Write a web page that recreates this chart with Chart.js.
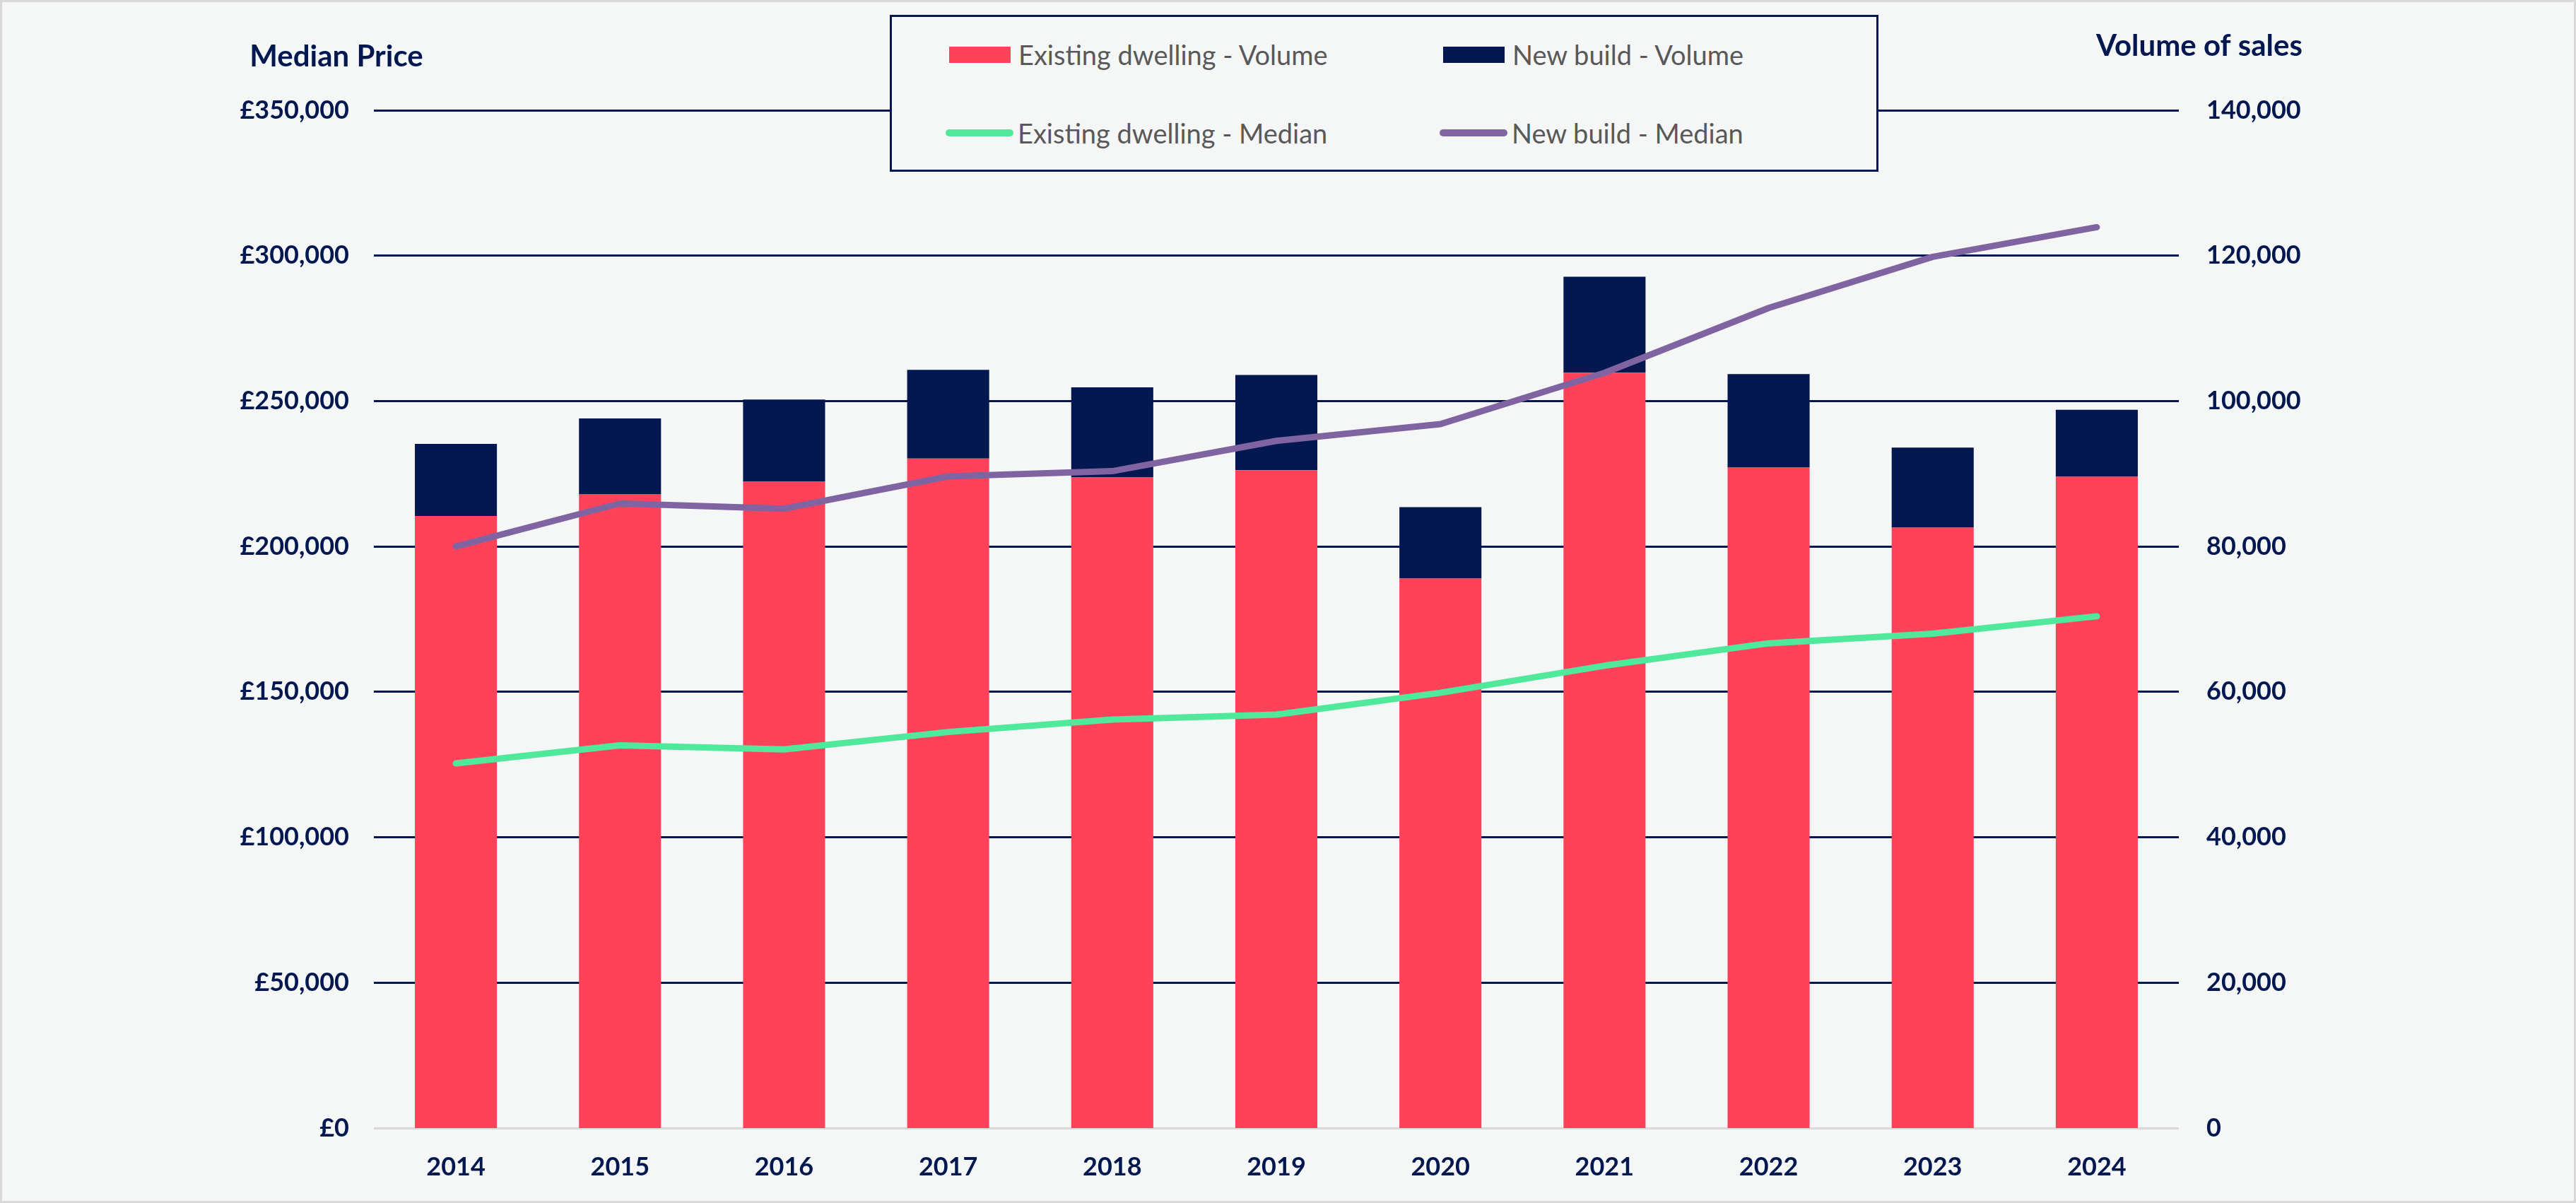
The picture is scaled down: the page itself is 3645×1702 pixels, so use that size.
<!DOCTYPE html>
<html lang="en">
<head>
    <meta charset="UTF-8">
    <title>Median Price and Volume of Sales</title>
    <style>
        html, body { margin: 0; padding: 0; background: #F5F7F6; }
        .wrap { position: relative; width: 3645px; height: 1702px; overflow: hidden; }
        .frame { position: absolute; left: 0; top: 0; width: 3645px; height: 1702px;
                 box-sizing: border-box; border: 3px solid #D9D9D9; pointer-events: none; }
        .legend { position: absolute; left: 1259px; top: 21px; width: 1399px; height: 222px;
                  box-sizing: border-box; border: 3px solid #031850; background: #F5F7F6; }
        .item { position: absolute; display: flex; align-items: center; height: 50px;
                font-family: Lato, 'Open Sans', sans-serif; font-size: 38px; color: #595959; white-space: nowrap; }
        .sw-box { width: 87px; height: 23px; margin-right: 11px; }
        .sw-line { width: 96px; height: 10px; border-radius: 5px; margin-left: -5px; margin-right: 6px; }
    </style>
</head>
<body>
<div class="wrap">
    <canvas id="chart" width="3645" height="1702"></canvas>
    <div class="legend" id="legend"></div>
    <div class="frame"></div>
</div>

<script src="https://cdn.jsdelivr.net/npm/chart.js@4"></script>
<script>
    const years = ['2014', '2015', '2016', '2017', '2018', '2019', '2020', '2021', '2022', '2023', '2024'];

    // volumes (right axis)
    const existingVolume = [84200, 87200, 88900, 92100, 89500, 90500, 75600, 103900, 90900, 82600, 89600];
    const newBuildVolume = [9900, 10400, 11300, 12200, 12400, 13100, 9800, 13200, 12800, 11000, 9200];

    // median prices (left axis)
    const existingMedian = [125400, 131600, 130200, 136200, 140500, 142200, 149700, 159000, 166700, 170000, 176000];
    const newBuildMedian = [200000, 214800, 213000, 224100, 225900, 236300, 242100, 259700, 282000, 299600, 309800];

    const seriesNames = ['Existing dwelling - Volume', 'New build - Volume', 'Existing dwelling - Median', 'New build - Median'];
    const leftTitle = 'Median Price';
    const rightTitle = 'Volume of sales';

    const navy = '#031850';
    const red = '#FF425A';
    const green = '#50E89B';
    const purple = '#8064A2';
    const fontFamily = 'Lato, "Open Sans", sans-serif';

    const fmt = v => v.toLocaleString('en-GB');

    // axis titles sit above the axes, not rotated
    const axisTitles = {
        id: 'axisTitles',
        afterDraw(chart) {
            const { ctx, chartArea } = chart;
            ctx.save();
            ctx.font = 'bold 42px ' + fontFamily;
            ctx.fillStyle = navy;
            ctx.textAlign = 'center';
            ctx.textBaseline = 'middle';
            ctx.fillText(leftTitle, chartArea.left - 53, 80);
            ctx.fillText(rightTitle, chartArea.right + 29, 65);
            ctx.restore();
        }
    };

    const ctx = document.getElementById('chart').getContext('2d');
    const chart = new Chart(ctx, {
        type: 'bar',
        data: {
            labels: years,
            datasets: [
                { label: seriesNames[0], data: existingVolume, yAxisID: 'yVol',
                  backgroundColor: red, order: 1 },
                { label: seriesNames[1], data: newBuildVolume, yAxisID: 'yVol',
                  backgroundColor: navy, order: 2 },
                { type: 'line', label: seriesNames[2], data: existingMedian, yAxisID: 'yPrice',
                  borderColor: green, backgroundColor: green, borderWidth: 9, pointRadius: 0,
                  borderCapStyle: 'round', borderJoinStyle: 'round', tension: 0, order: 0 },
                { type: 'line', label: seriesNames[3], data: newBuildMedian, yAxisID: 'yPrice',
                  borderColor: purple, backgroundColor: purple, borderWidth: 9, pointRadius: 0,
                  borderCapStyle: 'round', borderJoinStyle: 'round', tension: 0, order: 0 }
            ]
        },
        options: {
            responsive: false,
            devicePixelRatio: 1,
            animation: false,
            layout: { padding: { left: 0, right: 0, top: 156, bottom: 0 } },
            datasets: { bar: { categoryPercentage: 1.0, barPercentage: 0.5 } },
            plugins: {
                legend: { display: false },
                tooltip: { enabled: false }
            },
            scales: {
                x: {
                    stacked: true,
                    grid: { display: false },
                    border: { display: false },
                    ticks: { color: navy, padding: 26, font: { family: fontFamily, size: 36, weight: 'bold' } },
                    afterFit: s => { s.height = 106; }
                },
                yPrice: {
                    position: 'left',
                    min: 0, max: 350000,
                    grid: {
                        color: c => (c.tick && c.tick.value === 0) ? '#D9D9D9' : navy,
                        lineWidth: 3,
                        drawTicks: false
                    },
                    border: { display: false },
                    ticks: {
                        stepSize: 50000, padding: 35, color: navy,
                        font: { family: fontFamily, size: 36, weight: 'bold' },
                        callback: v => '£' + fmt(v)
                    },
                    afterFit: s => { s.width = 529; }
                },
                yVol: {
                    position: 'right',
                    stacked: true,
                    min: 0, max: 140000,
                    grid: { display: false, drawTicks: false },
                    border: { display: false },
                    ticks: {
                        stepSize: 20000, padding: 39, color: navy,
                        font: { family: fontFamily, size: 36, weight: 'bold' },
                        callback: v => fmt(v)
                    },
                    afterFit: s => { s.width = 562; }
                }
            }
        },
        plugins: [axisTitles]
    });

    // legend box: 2 x 2 grid, built from the datasets
    const legendEl = document.getElementById('legend');
    const slots = [
        { ds: 0, left: 81, top: 28 },
        { ds: 1, left: 780, top: 28 },
        { ds: 2, left: 81, top: 139 },
        { ds: 3, left: 780, top: 139 }
    ];
    slots.forEach(s => {
        const ds = chart.data.datasets[s.ds];
        const item = document.createElement('div');
        item.className = 'item';
        item.style.left = s.left + 'px';
        item.style.top = s.top + 'px';
        const sw = document.createElement('span');
        sw.className = ds.type === 'line' ? 'sw-line' : 'sw-box';
        sw.style.background = ds.type === 'line' ? ds.borderColor : ds.backgroundColor;
        const txt = document.createElement('span');
        txt.textContent = ds.label;
        item.appendChild(sw);
        item.appendChild(txt);
        legendEl.appendChild(item);
    });
</script>
</body>
</html>
